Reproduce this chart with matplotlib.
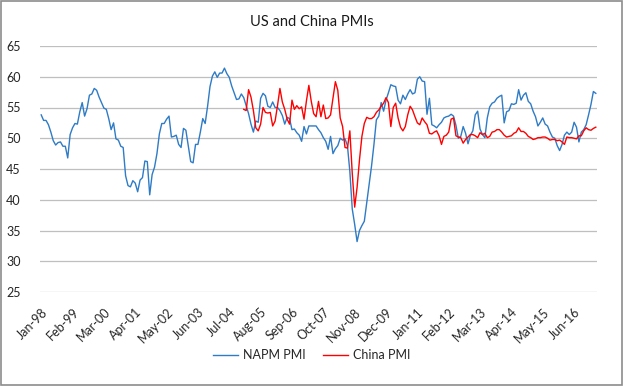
import matplotlib
matplotlib.use("Agg")
import matplotlib.pyplot as plt
import numpy as np
import pandas as pd
from matplotlib.patches import Rectangle

plt.rcParams['font.family'] = ['Lato', 'DejaVu Sans']

# ---- data (monthly, Jan-98 .. Mar-17) ----
start_month = "1998-01"
napm_pmi = [
    53.8, 52.9, 52.9, 52.2, 51.0, 49.6, 48.9, 49.3, 49.4, 48.7, 48.7, 46.8,   # 1998
    50.6, 51.7, 52.4, 52.3, 54.3, 55.8, 53.6, 54.8, 57.0, 57.2, 58.1, 57.8,   # 1999
    56.7, 55.8, 54.9, 54.7, 53.2, 51.4, 52.5, 49.9, 49.7, 48.7, 48.5, 43.9,   # 2000
    42.3, 42.1, 43.1, 42.7, 41.3, 43.2, 43.6, 46.3, 46.2, 40.8, 44.1, 45.3,   # 2001
    47.5, 50.7, 52.4, 52.4, 53.1, 53.6, 50.2, 50.3, 50.5, 49.0, 48.5, 51.6,   # 2002
    51.3, 48.8, 46.2, 46.0, 49.0, 49.0, 51.0, 53.2, 52.4, 55.2, 58.4, 60.1,   # 2003
    60.8, 59.9, 60.6, 60.6, 61.4, 60.5, 59.9, 58.5, 57.4, 56.3, 56.4, 57.2,   # 2004
    56.6, 55.3, 54.0, 52.3, 51.0, 52.8, 52.6, 56.5, 57.3, 56.9, 55.2, 55.0,   # 2005
    55.9, 55.0, 55.0, 54.5, 53.7, 52.3, 53.4, 53.2, 51.4, 51.5, 50.9, 50.5,   # 2006
    49.5, 51.9, 50.7, 52.0, 52.0, 52.0, 52.0, 51.4, 50.9, 50.1, 49.5, 48.2,   # 2007
    50.3, 47.5, 48.3, 48.8, 50.0, 49.7, 49.9, 48.8, 44.6, 38.5, 36.0, 33.2,   # 2008
    35.0, 35.8, 36.5, 39.5, 42.5, 45.5, 49.0, 53.0, 53.6, 55.8, 54.4, 56.2,   # 2009
    57.4, 58.7, 58.5, 58.4, 56.2, 55.6, 57.0, 56.3, 57.2, 57.9, 57.2, 57.4,   # 2010
    59.6, 60.0, 59.3, 59.2, 53.9, 56.5, 52.2, 52.0, 51.7, 52.2, 52.6, 53.3,   # 2011
    53.5, 53.6, 53.9, 53.6, 52.1, 50.0, 50.3, 51.9, 50.8, 49.1, 50.5, 51.2,   # 2012
    53.8, 54.4, 51.5, 50.6, 50.1, 53.3, 55.1, 55.7, 55.9, 56.5, 56.8, 57.0,   # 2013
    52.5, 54.3, 54.5, 55.6, 55.5, 55.7, 57.9, 56.2, 57.0, 57.4, 56.0, 55.6,   # 2014
    54.4, 53.5, 52.0, 52.6, 53.3, 52.3, 52.0, 51.0, 50.2, 50.0, 48.8, 48.0,   # 2015
    49.0, 50.5, 51.0, 50.6, 51.0, 52.6, 51.8, 49.4, 51.0, 51.4, 52.2, 53.8,   # 2016
    55.5, 57.6, 57.3,                                                         # 2017
]
china_start_month = "2005-01"
china_pmi = [
    54.7, 54.5, 57.9, 56.7, 54.5, 51.7, 51.2, 52.3, 55.0, 54.2, 54.1, 54.2,   # 2005
    52.0, 52.8, 55.3, 58.1, 55.9, 54.7, 53.1, 52.3, 56.2, 54.7, 55.3, 54.8,   # 2006
    55.1, 53.1, 56.1, 58.6, 56.0, 54.0, 53.5, 56.0, 53.5, 55.4, 53.2, 53.3,   # 2007
    53.8, 56.5, 59.2, 57.8, 53.3, 51.9, 48.5, 48.4, 51.2, 44.3, 38.8, 42.0,   # 2008
    46.5, 50.3, 52.4, 53.4, 53.2, 53.2, 53.5, 54.2, 54.6, 55.2, 55.7, 56.6,   # 2009
    55.8, 51.9, 55.0, 55.7, 53.3, 51.8, 51.2, 51.9, 53.8, 55.2, 54.6, 53.5,   # 2010
    52.5, 52.2, 53.3, 52.7, 52.2, 50.8, 50.7, 51.0, 51.2, 50.4, 49.0, 50.3,   # 2011
    50.5, 51.0, 53.1, 53.3, 50.4, 50.2, 50.1, 49.2, 49.8, 50.2, 50.6, 50.6,   # 2012
    50.4, 50.1, 50.9, 50.6, 50.8, 50.1, 50.3, 51.0, 51.1, 51.4, 51.4, 51.0,   # 2013
    50.5, 50.2, 50.3, 50.4, 50.8, 51.0, 51.7, 51.1, 51.1, 50.8, 50.3, 50.1,   # 2014
    49.8, 49.9, 50.1, 50.1, 50.2, 50.2, 50.0, 49.7, 49.8, 49.8, 49.6, 49.7,   # 2015
    49.4, 49.0, 50.2, 50.1, 50.1, 50.0, 49.9, 50.4, 50.4, 51.2, 51.7, 51.4,   # 2016
    51.3, 51.6, 51.8,                                                         # 2017
]
series_names = ["NAPM PMI", "China PMI"]
title = "US and China PMIs"
y_ticks = [25, 30, 35, 40, 45, 50, 55, 60, 65]

# ---- categories ----
months = pd.period_range(start_month, periods=len(napm_pmi), freq="M")
labels = [m.strftime("%b-%y") for m in months]
x_all = np.arange(len(months))
china_offset = list(months).index(pd.Period(china_start_month, freq="M"))
x_china = np.arange(china_offset, china_offset + len(china_pmi))
tick_step = 13
tick_idx = x_all[::tick_step]

# ---- figure ----
fig = plt.figure(figsize=(6.23, 3.86), dpi=100)
ax = fig.add_axes([40 / 623, 1 - 292 / 386, 557 / 623, 246 / 386])

blue = "#2E7BC6"
red = "#FF0000"
ax.plot(x_all, napm_pmi, color=blue, lw=1.0, label=series_names[0], zorder=3)
ax.plot(x_china, china_pmi, color=red, lw=1.0, label=series_names[1], zorder=4)

ax.set_xlim(-0.5, len(months) - 0.5)
ax.set_ylim(25, 65)
ax.set_yticks(y_ticks)
ax.set_yticklabels([str(v) for v in y_ticks], fontsize=9, color="#262626")
ax.set_xticks(tick_idx)
ax.set_xticklabels([labels[i] for i in tick_idx], rotation=45, ha="right",
                   rotation_mode="anchor", fontsize=9, color="#262626")
ax.tick_params(axis="both", length=0)
ax.tick_params(axis="y", pad=14)
ax.tick_params(axis="x", pad=10)
ax.grid(axis="y", color="#BFBFBF", lw=0.9)
ax.set_axisbelow(True)
for s in ax.spines.values():
    s.set_visible(False)

fig.text(0.5, 1 - 22 / 386, title, ha="center", va="center", fontsize=10.5,
         color="#1a1a1a")

leg = fig.legend(loc="center", bbox_to_anchor=(0.5, 1 - 355 / 386), ncol=2,
                 frameon=False, fontsize=9, handlelength=2.0,
                 handletextpad=0.4, columnspacing=1.4)
for t in leg.get_texts():
    t.set_color("#262626")

fig.add_artist(Rectangle((0.001, 0.002), 0.997, 0.995, transform=fig.transFigure,
                         fill=False, ec="#8C8C8C", lw=1.2))

fig.savefig("out.png", dpi=100)
